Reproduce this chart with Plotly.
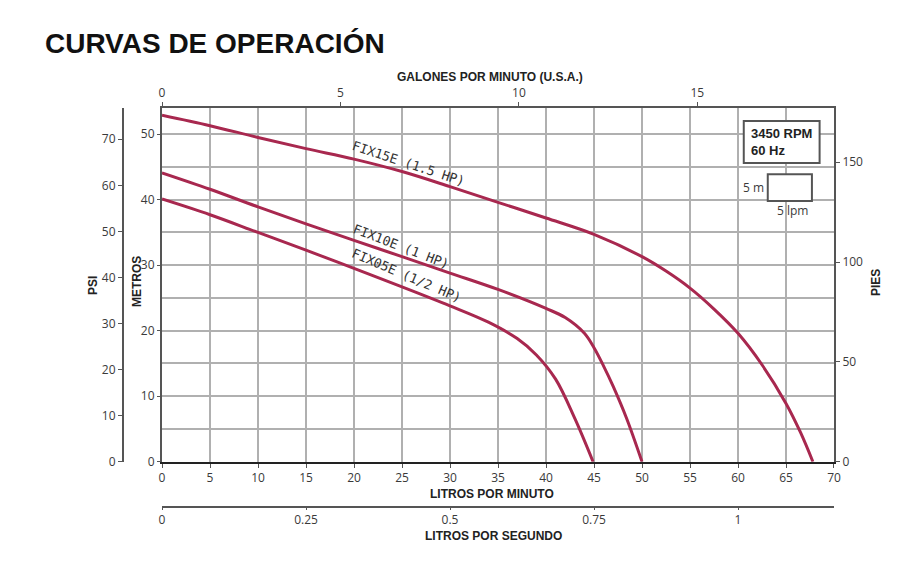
import plotly.graph_objects as go

# Curvas de operación - bombas FIX (3450 RPM, 60 Hz)
# caudal en litros por minuto, altura en metros

fix15_lpm = [0, 5, 10, 15, 20, 25, 30, 35, 40, 45, 50, 52.5, 55, 57.5, 60, 62.5, 65, 66.5, 67.8]
fix15_m = [52.9, 51.3, 49.5, 47.8, 46.2, 44.3, 42.0, 39.6, 37.2, 34.7, 31.3, 29.1, 26.5, 23.3,
           19.6, 14.8, 8.9, 4.5, 0]

fix10_lpm = [0, 5, 10, 15, 20, 25, 30, 35, 40, 42, 44, 45, 46, 47, 48.4, 50]
fix10_m = [44.1, 41.6, 38.9, 36.3, 33.8, 31.3, 28.8, 26.3, 23.4, 22.0, 19.6, 17.4, 14.6, 11.5, 6.6, 0]

fix05_lpm = [0, 5, 10, 15, 20, 25, 30, 34, 37, 39, 41, 43, 44.9]
fix05_m = [40.1, 37.7, 35.0, 32.3, 29.5, 26.7, 23.8, 21.3, 18.8, 16.3, 12.6, 6.6, 0]

curve_names = ["FIX15E (1.5 HP)", "FIX10E (1 HP)", "FIX05E (1/2 HP)"]

lpm_ticks = list(range(0, 75, 5))
lps_ticks = [0, 0.25, 0.5, 0.75, 1]
lps_labels = ["0", "0.25", "0.5", "0.75", "1"]
gpm_ticks = [0, 5, 10, 15]
metros_ticks = [0, 10, 20, 30, 40, 50]
psi_ticks = [0, 10, 20, 30, 40, 50, 60, 70]
pies_ticks = [0, 50, 100, 150]

LPM_MAX = 70
M_MAX = 54
GPM_MAX = 18.83          # the printed gallon scale is slightly off from 3.785
PSI_PER_M = 1.42197
FT_PER_M = 3.28084

RED = "#a8284f"
GRID = "#b0b0b0"
AXIS = "#555555"
TICKFONT = dict(family="Open Sans, Arial", size=12, color="#3a3a3a")
BOLD = "Liberation Sans Narrow, Liberation Sans, Arial"

fig = go.Figure()
for xs, ys, name in [(fix15_lpm, fix15_m, curve_names[0]),
                     (fix10_lpm, fix10_m, curve_names[1]),
                     (fix05_lpm, fix05_m, curve_names[2])]:
    fig.add_trace(go.Scatter(x=xs, y=ys, mode="lines", name=name,
                             line=dict(color=RED, width=3, shape="spline", smoothing=1.0),
                             showlegend=False))

# empty traces so the extra scales get drawn
for xa, ya in [("x2", "y"), ("x", "y2"), ("x", "y3"), ("x3", "y")]:
    fig.add_trace(go.Scatter(x=[], y=[], xaxis=xa, yaxis=ya, showlegend=False, hoverinfo="skip"))

# page body has an 8px margin, so everything is placed 8px up/left
XDOM = [0.12562, 0.95320]
YDOM = [0.13240, 0.89633]

fig.update_layout(
    width=924, height=565,
    margin=dict(l=52, r=60, t=52, b=50),
    paper_bgcolor="white", plot_bgcolor="white",
    title=dict(text="<b>CURVAS DE OPERACIÓN</b>", x=0.040, xanchor="left",
               y=0.938, yanchor="middle", xref="container", yref="container",
               font=dict(family="Liberation Sans, Arial", size=28, color="#111111")),
    xaxis=dict(domain=XDOM, range=[0, LPM_MAX], tickvals=lpm_ticks, showgrid=True,
               gridcolor=GRID, gridwidth=2, zeroline=False, showline=True,
               linecolor="#222222", linewidth=2, ticks="outside", ticklen=4,
               tickcolor=AXIS, tickfont=TICKFONT),
    yaxis=dict(domain=YDOM, range=[0, M_MAX], tickvals=metros_ticks, showgrid=True,
               gridcolor=GRID, gridwidth=2, zeroline=False, showline=True,
               linecolor=AXIS, linewidth=2, ticks="outside", ticklen=3,
               tickcolor=AXIS, tickfont=TICKFONT,
               minor=dict(dtick=5, showgrid=True, gridcolor=GRID, gridwidth=2)),
    xaxis2=dict(overlaying="x", side="top", anchor="y", range=[0, GPM_MAX],
                tickvals=gpm_ticks, showgrid=False, zeroline=False, showline=True,
                linecolor=AXIS, linewidth=2, ticks="outside", ticklen=4,
                tickcolor=AXIS, tickfont=TICKFONT),
    xaxis3=dict(overlaying="x", anchor="free", position=0.03456,
                range=[0, LPM_MAX / 60], tickvals=lps_ticks, ticktext=lps_labels,
                showgrid=False, zeroline=False, showline=True, linecolor=AXIS,
                linewidth=2, ticks="outside", ticklen=2, tickcolor=AXIS,
                tickfont=TICKFONT),
    yaxis2=dict(overlaying="y", anchor="free", position=0.07759, side="left",
                range=[0, M_MAX * PSI_PER_M], tickvals=psi_ticks, showgrid=False,
                zeroline=False, showline=True, linecolor=AXIS, linewidth=2,
                ticks="outside", ticklen=4, tickcolor=AXIS, tickfont=TICKFONT),
    yaxis3=dict(overlaying="y", anchor="x", side="right",
                range=[0, M_MAX * FT_PER_M], tickvals=pies_ticks, showgrid=False,
                zeroline=False, showline=True, linecolor=AXIS, linewidth=2,
                ticks="outside", ticklen=4, tickcolor=AXIS, tickfont=TICKFONT),
)

# axis titles
titles = [
    ("PSI", 0.04064, 0.5140, -90),
    ("METROS", 0.09483, 0.5205, -90),
    ("PIES", 1.00493, 0.5184, -90),
    ("GALONES POR MINUTO (U.S.A.)", 0.52956, 0.96328, 0),
    ("LITROS POR MINUTO", 0.53202, 0.06263, 0),
    ("LITROS POR SEGUNDO", 0.53448, -0.0290, 0),
]
for txt, px, py, ang in titles:
    fig.add_annotation(text="<b>" + txt + "</b>", x=px, y=py, xref="paper", yref="paper",
                       showarrow=False, textangle=ang, xanchor="center", yanchor="middle",
                       font=dict(family=BOLD, size=12, color="#222222"))

# curve labels
for name, lx, ly, ang in [(curve_names[0], 25.7, 45.6, 18),
                          (curve_names[1], 24.9, 32.8, 21),
                          (curve_names[2], 25.5, 28.5, 23)]:
    fig.add_annotation(text=name, x=lx, y=ly, showarrow=False, textangle=ang,
                       font=dict(family="DejaVu Sans Mono", size=13, color="#333333"))

# speed box and scale box
fig.add_shape(type="rect", x0=60.6, x1=68.5, y0=45.6, y1=52.0,
              line=dict(color=AXIS, width=2), fillcolor="white", layer="above")
fig.add_annotation(text="<b>3450 RPM<br>60 Hz</b>", x=61.1, y=48.8, xanchor="left",
                   yanchor="middle", align="left", showarrow=False,
                   font=dict(family="Liberation Sans, Arial", size=13, color="#222222"))
fig.add_shape(type="rect", x0=63.1, x1=67.7, y0=39.8, y1=43.9,
              line=dict(color=AXIS, width=2), fillcolor="white", layer="above")
fig.add_annotation(text="5 m", x=62.9, y=41.8, xanchor="right", yanchor="middle",
                   showarrow=False, font=TICKFONT)
fig.add_annotation(text="5 lpm", x=65.7, y=38.4, xanchor="center", yanchor="middle",
                   showarrow=False, font=TICKFONT)

fig.write_html("out.html")
